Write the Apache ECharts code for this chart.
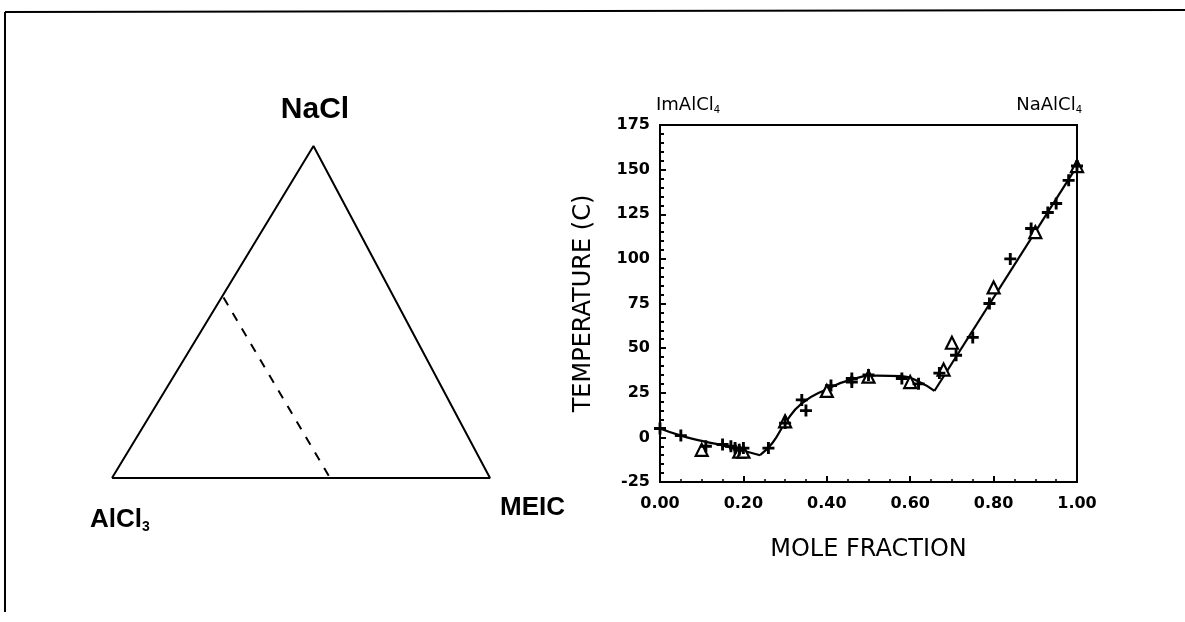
<!DOCTYPE html>
<html>
<head>
<meta charset="utf-8">
<script src="https://cdn.jsdelivr.net/npm/echarts@6/dist/echarts.min.js"></script>
<style>html,body{margin:0;padding:0;background:#fff}#c{width:1185px;height:622px}</style>
</head>
<body>
<div id="c"></div>
<script>
// Ternary diagram (left) — vertex positions in diagram fractions
const triX = [0, 0.533, 1, 0];
const triY = [0, 1, 0, 0];
const dashX = [0.295, 0.577];
const dashY = [0.544, 0];

// Phase diagram (right)
const xTicks = [0, 0.2, 0.4, 0.6, 0.8, 1.0];
const yTicks = [-25, 0, 25, 50, 75, 100, 125, 150, 175];
const plusX = [0.00,0.05,0.11,0.15,0.17,0.18,0.19,0.20,0.26,0.30,0.34,0.35,0.41,0.46,0.46,0.50,0.58,0.62,0.67,0.71,0.75,0.79,0.84,0.89,0.93,0.95,0.98,1.00];
const plusY = [5,1,-5,-4,-5,-6,-7,-6,-6,8,21,15,29,33,31,35,33,30,36,46,56,75,100,117,126,131,144,152];
const triPX = [0.10,0.19,0.20,0.30,0.40,0.50,0.60,0.68,0.70,0.80,0.90,1.00];
const triPY = [-7,-8,-8,9,26,34,31,38,53,84,115,152];
const curveAX = [0,0.05,0.10,0.15,0.20,0.24];
const curveAY = [5,1,-2,-4.5,-7.5,-10];
const curveBX = [0.24,0.27,0.30,0.34,0.40,0.46,0.52,0.58,0.62,0.658];
const curveBY = [-10,-3,8,19,27,32.5,34.6,34.3,31.3,26];
const curveCX = [0.658,1.0];
const curveCY = [26,152];

const zip = (a,b) => a.map((v,i)=>[v,b[i]]);
const PLUS = 'path://M3.8,0H6.2V3.8H10V6.2H6.2V10H3.8V6.2H0V3.8H3.8Z';
const F = 'DejaVu Sans';
const lineStyle = {color:'#000', width:2.2};

const chart = echarts.init(document.getElementById('c'));
chart.setOption({
  backgroundColor:'#fff',
  animation:false,
  title:[
    {text:'NaCl', left:315, top:95, textAlign:'center', padding:0,
     textStyle:{fontFamily:'Liberation Sans', fontWeight:'bold', fontSize:30, color:'#000'}},
    {text:'MEIC', left:500, top:495, padding:0,
     textStyle:{fontFamily:'Liberation Sans', fontWeight:'bold', fontSize:26, color:'#000'}},
    {text:'AlCl{s|3}', left:90, top:506, padding:0,
     textStyle:{fontFamily:'Liberation Sans', fontWeight:'bold', fontSize:26, color:'#000',
       rich:{s:{fontFamily:'Liberation Sans', fontWeight:'bold', fontSize:14, color:'#000', padding:[14,0,0,0]}}}},
    {text:'ImAlCl{s|4}', left:656, top:95, padding:0,
     textStyle:{fontFamily:F, fontWeight:'normal', fontSize:18, color:'#000',
       rich:{s:{fontFamily:F, fontSize:10, color:'#000', padding:[10,0,0,0]}}}},
    {text:'NaAlCl{s|4}', left:1082, top:95, textAlign:'right', padding:0,
     textStyle:{fontFamily:F, fontWeight:'normal', fontSize:18, color:'#000',
       rich:{s:{fontFamily:F, fontSize:10, color:'#000', padding:[10,0,0,0]}}}}
  ],
  graphic:[
    {type:'line', shape:{x1:5,y1:12,x2:1185,y2:10}, style:{stroke:'#000', lineWidth:2}},
    {type:'line', shape:{x1:5,y1:12,x2:5,y2:612}, style:{stroke:'#000', lineWidth:2}}
  ],
  grid:[
    {left:112, top:146, width:378, height:332},
    {left:660, top:125, width:417, height:357, show:true, borderColor:'#000', borderWidth:2}
  ],
  xAxis:[
    {gridIndex:0, type:'value', min:0, max:1, show:false},
    {gridIndex:1, type:'value', min:0, max:1, interval:0.2,
     name:'MOLE FRACTION', nameLocation:'middle', nameGap:56,
     nameTextStyle:{fontFamily:F, fontSize:24, color:'#000'},
     axisLine:{onZero:false, lineStyle:{color:'#000', width:2}},
     axisTick:{inside:true, length:6, lineStyle:{color:'#000', width:2}},
     minorTick:{show:true, splitNumber:4, length:3, lineStyle:{color:'#000', width:1.5}},
     splitLine:{show:false},
     axisLabel:{margin:14, fontFamily:F, fontSize:16, fontWeight:'bold', color:'#000',
       formatter:v=>v.toFixed(2)}}
  ],
  yAxis:[
    {gridIndex:0, type:'value', min:0, max:1, show:false},
    {gridIndex:1, type:'value', min:-25, max:175, interval:25,
     name:'TEMPERATURE (C)', nameLocation:'middle', nameGap:64, nameRotate:90,
     nameTextStyle:{fontFamily:F, fontSize:24, color:'#000'},
     axisLine:{onZero:false, lineStyle:{color:'#000', width:2}},
     axisTick:{inside:true, length:6, lineStyle:{color:'#000', width:2}},
     minorTick:{show:true, splitNumber:5, length:4, lineStyle:{color:'#000', width:2}},
     splitLine:{show:false},
     axisLabel:{margin:10, fontFamily:F, fontSize:16, fontWeight:'bold', color:'#000'}}
  ],
  series:[
    {type:'line', xAxisIndex:0, yAxisIndex:0, data:zip(triX,triY), symbol:'none',
     lineStyle:{color:'#000', width:2}},
    {type:'line', xAxisIndex:0, yAxisIndex:0, data:zip(dashX,dashY), symbol:'none',
     lineStyle:{color:'#000', width:2, type:[9,9]}},
    {type:'line', xAxisIndex:1, yAxisIndex:1, data:zip(curveAX,curveAY), symbol:'none', smooth:true, lineStyle},
    {type:'line', xAxisIndex:1, yAxisIndex:1, data:zip(curveBX,curveBY), symbol:'none', smooth:true, lineStyle},
    {type:'line', xAxisIndex:1, yAxisIndex:1, data:zip(curveCX,curveCY), symbol:'none', lineStyle},
    {type:'scatter', xAxisIndex:1, yAxisIndex:1, data:zip(triPX,triPY), symbol:'triangle', symbolSize:12,
     itemStyle:{color:'#fff', borderColor:'#000', borderWidth:2.2, opacity:1}, z:3},
    {type:'scatter', xAxisIndex:1, yAxisIndex:1, data:zip(plusX,plusY), symbol:PLUS, symbolSize:12,
     itemStyle:{color:'#000', opacity:1}, z:4}
  ]
});
</script>
</body>
</html>
